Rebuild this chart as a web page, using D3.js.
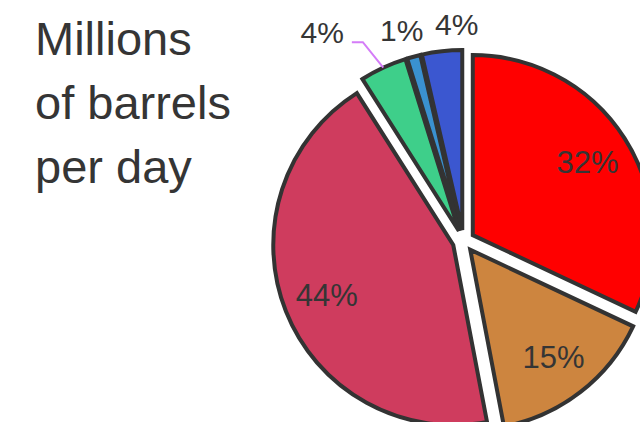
<!DOCTYPE html>
<html>
<head>
<meta charset="utf-8">
<script src="https://cdn.jsdelivr.net/npm/d3@7"></script>
<style>
  body { margin: 0; background: #fff; }
  svg { display: block; }
</style>
</head>
<body>
<svg id="chart"></svg>
<script>
const categories = ['Segment 1', 'Segment 2', 'Segment 3', 'Segment 4', 'Segment 5', 'Segment 6'];
const values = [32, 15, 44, 4.2, 1.2, 3.6];
const titleLines = ['Millions', 'of barrels', 'per day'];
const colors = ['#ff0000', '#cd853f', '#cf3c5e', '#3ecf8a', '#3a91d0', '#3b57d0'];

const config = {
  width: 640,
  height: 422,
  cx: 463.5,
  cy: 241,
  radius: 180,
  pull: 11,
  insideLabelRadius: 136,
  outsideLabelRadius: 207,
  outsideThreshold: 0.05,
  labelGap: 55,
  fontFamily: 'Arial, "Liberation Sans", sans-serif',
  textColor: '#353535'
};

createPieChart('chart', config);

function createPieChart(id, config) {
  config.svg = d3.select(`#${id}`)
    .attr('width', config.width)
    .attr('height', config.height);
  setArcsToConfig(config);
  drawTitle(config);
  drawSlices(config);
  drawInsideLabels(config);
  drawOutsideLabels(config);
}

function setArcsToConfig(config) {
  const total = d3.sum(values);
  const pie = d3.pie().sort(null).value(d => d.value);
  config.arcs = pie(categories.map((c, i) => ({ name: c, value: values[i], color: colors[i] })));
  config.arcs.forEach(a => {
    a.mid = (a.startAngle + a.endAngle) / 2;
    a.share = a.data.value / total;
    a.ox = config.cx + Math.sin(a.mid) * config.pull;
    a.oy = config.cy - Math.cos(a.mid) * config.pull;
  });
  config.arc = d3.arc().innerRadius(0).outerRadius(config.radius);
  config.pct = d3.format('.0%');
}

function polar(a, r) {
  return [a.ox + Math.sin(a.mid) * r, a.oy - Math.cos(a.mid) * r];
}

function drawTitle(config) {
  config.svg.append('text')
    .attr('x', 35)
    .attr('y', 55)
    .style('font-family', config.fontFamily)
    .style('font-size', '47px')
    .attr('fill', config.textColor)
    .selectAll('tspan')
    .data(titleLines)
    .enter()
    .append('tspan')
    .attr('x', 35)
    .attr('dy', (d, i) => i === 0 ? 0 : 64)
    .text(d => d);
}

function drawSlices(config) {
  config.svg.append('g')
    .selectAll('path')
    .data(config.arcs)
    .enter()
    .append('path')
    .attr('transform', a => `translate(${a.ox},${a.oy})`)
    .attr('d', config.arc)
    .attr('fill', a => a.data.color)
    .attr('stroke', '#333333')
    .attr('stroke-width', 4);
}

function drawInsideLabels(config) {
  config.svg.append('g')
    .selectAll('text')
    .data(config.arcs.filter(a => a.share >= config.outsideThreshold))
    .enter()
    .append('text')
    .attr('x', a => polar(a, config.insideLabelRadius)[0])
    .attr('y', a => polar(a, config.insideLabelRadius)[1])
    .attr('dy', '0.36em')
    .attr('text-anchor', 'middle')
    .style('font-family', config.fontFamily)
    .style('font-size', '31px')
    .attr('fill', config.textColor)
    .text(a => config.pct(a.share));
}

function drawOutsideLabels(config) {
  const outer = config.arcs.filter(a => a.share < config.outsideThreshold);
  outer.forEach(a => {
    [a.lx, a.ly] = polar(a, config.outsideLabelRadius);
    a.leader = false;
  });
  // spread labels that overlap: first one gets a leader line, others move right
  for (let i = 1; i < outer.length; i++) {
    if (outer[i].lx - outer[i - 1].lx < config.labelGap) {
      if (i - 1 === 0) outer[0].leader = true;
      else outer[i].lx = outer[i - 1].lx + config.labelGap;
    }
  }

  const g = config.svg.append('g');
  outer.filter(a => a.leader).forEach(a => {
    const p0 = polar(a, config.radius);
    const ly = polar(a, config.outsideLabelRadius)[1] - 1;
    const p1 = [p0[0] - (p0[1] - ly) * 0.8, ly];
    const p2 = [p1[0] - 11, ly];
    g.append('path')
      .attr('d', d3.line()([p0, p1, p2]))
      .attr('fill', 'none')
      .attr('stroke', '#d47cf8')
      .attr('stroke-width', 2);
    a.tx = p2[0] - 8;
    a.ty = ly + 1;
  });

  g.selectAll('text')
    .data(outer)
    .enter()
    .append('text')
    .attr('x', a => a.leader ? a.tx : a.lx - 5)
    .attr('y', a => a.leader ? a.ty : a.ly)
    .attr('dy', a => a.leader ? 0 : '0.36em')
    .attr('text-anchor', a => a.leader ? 'end' : 'middle')
    .style('font-family', config.fontFamily)
    .style('font-size', '30px')
    .attr('fill', config.textColor)
    .text(a => config.pct(a.share));
}
</script>
</body>
</html>
